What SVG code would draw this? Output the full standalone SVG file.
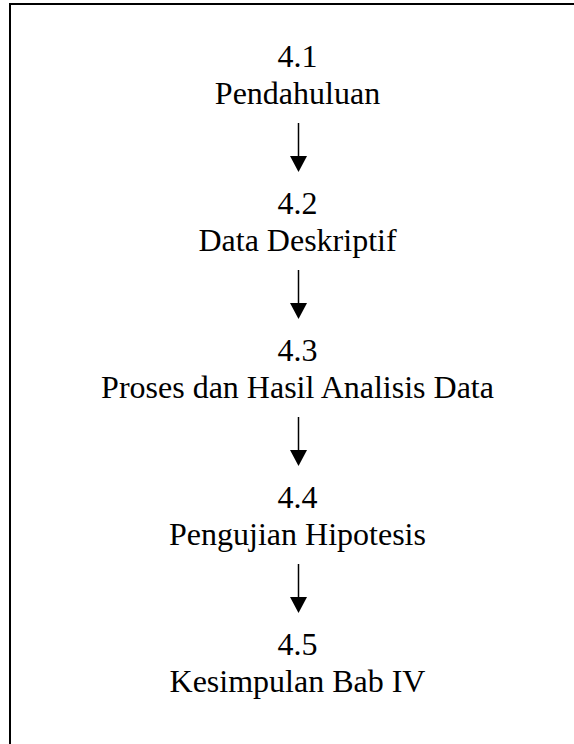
<svg xmlns="http://www.w3.org/2000/svg" width="574" height="744" viewBox="0 0 574 744">
<style>
text{font-family:"Liberation Serif","Times New Roman",serif;font-size:32px;fill:#000;text-anchor:middle}
.conn line{stroke:#000;stroke-width:1.5}
</style>
<defs>
<marker id="ah" markerUnits="userSpaceOnUse" markerWidth="18" markerHeight="17" refX="8.5" refY="16" orient="auto-start-reverse" viewBox="0 0 17 16">
<path d="M0,0 L17,0 L8.5,16 Z" fill="#000" transform="rotate(0)"/>
</marker>
</defs>
<rect width="574" height="744" fill="#fff"/>
<rect x="10" y="4" width="620" height="800" fill="none" stroke="#000" stroke-width="2"/>
<g id="n1"><text x="297.5" y="67">4.1</text><text x="297.5" y="104">Pendahuluan</text></g>
<g id="n2"><text x="297.5" y="214">4.2</text><text x="297.5" y="251">Data Deskriptif</text></g>
<g id="n3"><text x="297.5" y="361">4.3</text><text x="297.5" y="398">Proses dan Hasil Analisis Data</text></g>
<g id="n4"><text x="297.5" y="508">4.4</text><text x="297.5" y="545">Pengujian Hipotesis</text></g>
<g id="n5"><text x="297.5" y="655">4.5</text><text x="297.5" y="692">Kesimpulan Bab IV</text></g>
<g id="connectors" class="conn">
<line x1="298.5" y1="123" x2="298.5" y2="160"/>
<path d="M290,156 L307,156 L298.5,172 Z"/>
<line x1="298.5" y1="270" x2="298.5" y2="307"/>
<path d="M290,303 L307,303 L298.5,319 Z"/>
<line x1="298.5" y1="417" x2="298.5" y2="454"/>
<path d="M290,450 L307,450 L298.5,466 Z"/>
<line x1="298.5" y1="564" x2="298.5" y2="601"/>
<path d="M290,597 L307,597 L298.5,613 Z"/>
</g>
</svg>
